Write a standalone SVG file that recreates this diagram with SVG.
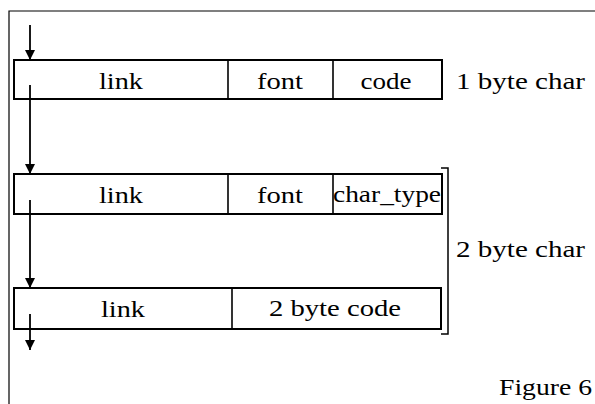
<svg xmlns="http://www.w3.org/2000/svg" width="595" height="404" viewBox="0 0 595 404">
<defs>
<marker id="ah" viewBox="0 0 10 10" refX="10" refY="5" markerWidth="10" markerHeight="10" markerUnits="userSpaceOnUse" orient="auto">
<path d="M0,0 L10,5 L0,10 Z" fill="#000"/>
</marker>
</defs>
<style>
.box{fill:#fff;stroke:#000;stroke-width:2}
.div{stroke:#000;stroke-width:1.6}
.frame{fill:none;stroke:#000;stroke-width:1.2}
.conn{stroke:#000;stroke-width:1.8;fill:none;marker-end:url(#ah)}
text{font-family:"Liberation Serif","Times New Roman",serif;font-size:24px;fill:#000}
.c{text-anchor:middle}
</style>
<rect width="595" height="404" fill="#fff"/>
<path class="frame" d="M595,11 L9,11 L9,404"/>
<g id="node1">
<rect class="box" x="14" y="60" width="428" height="39"/>
<line class="div" x1="228" y1="60" x2="228" y2="99"/>
<line class="div" x1="333" y1="60" x2="333" y2="99"/>
<text class="c" x="121" y="89" textLength="44" lengthAdjust="spacingAndGlyphs">link</text>
<text class="c" x="280" y="89" textLength="46" lengthAdjust="spacingAndGlyphs">font</text>
<text class="c" x="386" y="89" textLength="51" lengthAdjust="spacingAndGlyphs">code</text>
</g>
<g id="node2">
<rect class="box" x="14" y="174" width="428" height="40"/>
<line class="div" x1="228" y1="174" x2="228" y2="214"/>
<line class="div" x1="333" y1="174" x2="333" y2="214"/>
<text class="c" x="121" y="203" textLength="44" lengthAdjust="spacingAndGlyphs">link</text>
<text class="c" x="280" y="203" textLength="46" lengthAdjust="spacingAndGlyphs">font</text>
<text x="333" y="202" textLength="108" lengthAdjust="spacingAndGlyphs">char_type</text>
</g>
<g id="node3">
<rect class="box" x="14" y="288" width="427" height="41"/>
<line class="div" x1="232" y1="288" x2="232" y2="329"/>
<text class="c" x="123" y="317" textLength="44" lengthAdjust="spacingAndGlyphs">link</text>
<text class="c" x="335" y="316" textLength="132" lengthAdjust="spacingAndGlyphs">2 byte code</text>
</g>
<g id="label1"><text x="456" y="89" textLength="129" lengthAdjust="spacingAndGlyphs">1 byte char</text></g>
<g id="bracket">
<path d="M441,168 L448,168 L448,334 L441,334" fill="none" stroke="#000" stroke-width="1.5"/>
<text x="456" y="257" textLength="129" lengthAdjust="spacingAndGlyphs">2 byte char</text>
</g>
<g id="caption"><text x="499" y="395" textLength="93" lengthAdjust="spacingAndGlyphs">Figure 6</text></g>
<g id="connectors">
<line class="conn" x1="30" y1="25" x2="30" y2="60"/>
<line class="conn" x1="30" y1="85" x2="30" y2="174"/>
<line class="conn" x1="30" y1="200" x2="30" y2="288"/>
<line class="conn" x1="30" y1="314" x2="30" y2="350"/>
</g>
</svg>
